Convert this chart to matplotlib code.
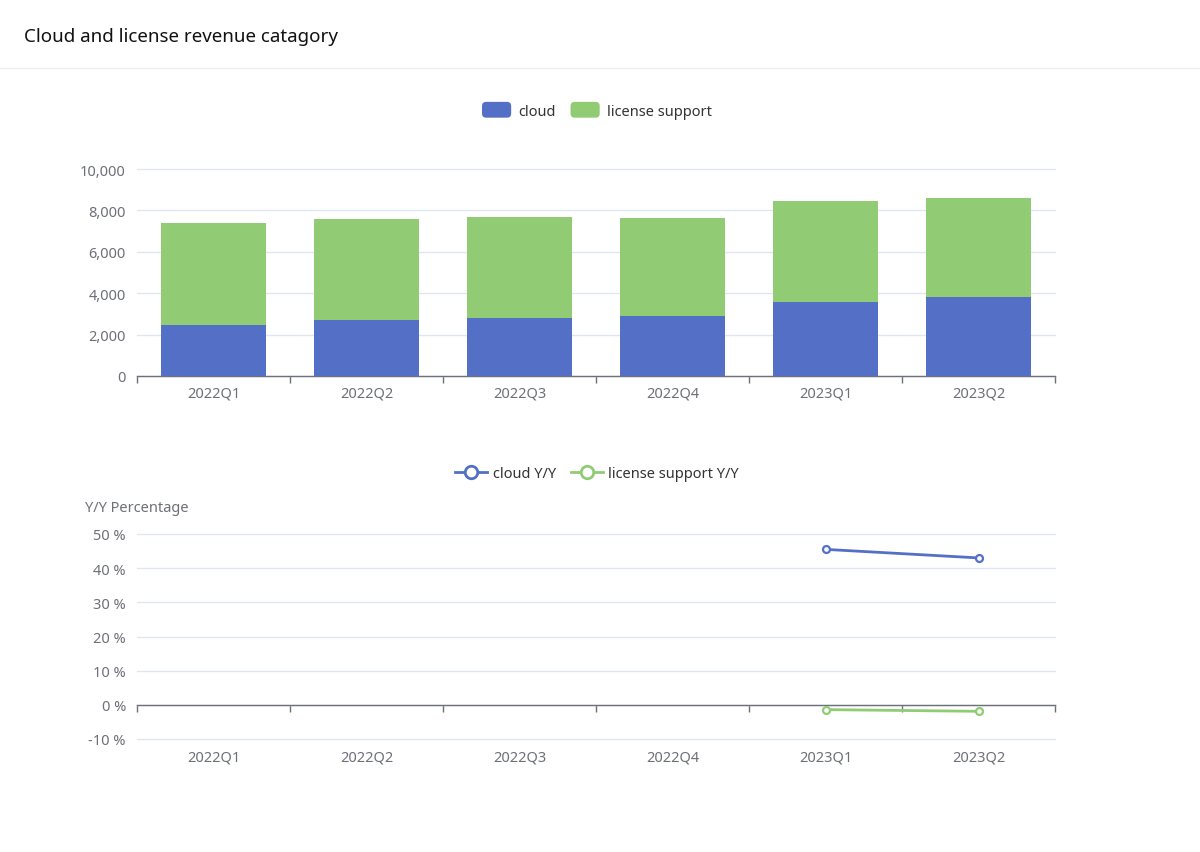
import matplotlib
matplotlib.use("Agg")
import matplotlib.pyplot as plt
import numpy as np
from matplotlib.patches import FancyBboxPatch
from matplotlib.legend_handler import HandlerPatch
from matplotlib.lines import Line2D
import matplotlib.patches as mpatches

plt.rcParams['font.family'] = ['Noto Sans', 'DejaVu Sans']

quarters = ["2022Q1", "2022Q2", "2022Q3", "2022Q4", "2023Q1", "2023Q2"]
cloud = [2470, 2690, 2810, 2920, 3590, 3810]
license_support = [4910, 4890, 4850, 4700, 4840, 4800]
cloud_yy = [np.nan, np.nan, np.nan, np.nan, 45.5, 43.0]
license_yy = [np.nan, np.nan, np.nan, np.nan, -1.4, -1.9]

BLUE = "#5470c6"
GREEN = "#91cc75"
TXT = "#6e7079"
GRID = "#e0e6f1"
TICKFS = 10.5

W, H = 1200, 853
fig = plt.figure(figsize=(12, 8.53), dpi=100)
fig.patch.set_facecolor("white")

def fx(px):
    return px / W

def fy(py):
    return 1 - py / H

# Title and separator
fig.text(fx(24), fy(37), "Cloud and license revenue catagory", fontsize=13.5,
         color="#111111", ha="left", va="center")
fig.add_artist(Line2D([0, 1], [fy(69), fy(69)], color="#eeeeee", lw=1,
                      transform=fig.transFigure))

class RoundRectHandler(HandlerPatch):
    def create_artists(self, legend, orig_handle, xdescent, ydescent, width,
                       height, fontsize, trans):
        p = FancyBboxPatch((-xdescent, -ydescent - 1), width, height + 2,
                           boxstyle="round,pad=0,rounding_size=3",
                           facecolor=orig_handle.get_facecolor(),
                           edgecolor="none", transform=trans)
        return [p]

x = np.arange(len(quarters))

# Top bar chart
ax1 = fig.add_axes([fx(137), fy(377), fx(1055 - 137), (377 - 170) / H])
ax1.bar(x, cloud, width=0.69, color=BLUE, label="cloud", zorder=3)
ax1.bar(x, license_support, width=0.69, bottom=cloud, color=GREEN,
        label="license support", zorder=3)
ax1.set_xlim(-0.5, len(quarters) - 0.5)
ax1.set_ylim(0, 10000)
ax1.set_yticks(np.arange(0, 10001, 2000))
ax1.set_yticklabels([f"{v:,}" for v in range(0, 10001, 2000)])
ax1.set_xticks(np.arange(-0.5, len(quarters), 1.0))
ax1.set_xticklabels([])
ax1.set_xticks(x, minor=True)
ax1.set_xticklabels(quarters, minor=True)
ax1.tick_params(axis="x", which="major", length=5, width=1, color=TXT,
                direction="out")
ax1.tick_params(axis="x", which="minor", length=0, pad=7, labelsize=TICKFS,
                labelcolor=TXT)
ax1.tick_params(axis="y", length=0, pad=8, labelsize=TICKFS, labelcolor=TXT)
for s in ["top", "right", "left"]:
    ax1.spines[s].set_visible(False)
ax1.spines["bottom"].set_color(TXT)
ax1.spines["bottom"].set_linewidth(1)
ax1.yaxis.grid(True, color=GRID, lw=1, zorder=0)
for gl in ax1.get_ygridlines():
    gl.set_clip_on(False)
ax1.set_axisbelow(True)

fig.legend(handles=[mpatches.Patch(color=BLUE, label="cloud"),
                    mpatches.Patch(color=GREEN, label="license support")],
           handler_map={mpatches.Patch: RoundRectHandler()},
           loc="center", bbox_to_anchor=(fx(597), fy(112)), ncol=2,
           frameon=False, fontsize=10.5, labelcolor="#333333",
           handlelength=2.0, handleheight=1.0, handletextpad=0.5,
           columnspacing=1.0)

# Bottom line chart
ax2 = fig.add_axes([fx(137), fy(740), fx(1055 - 137), (740 - 535) / H])
ax2.plot(x, cloud_yy, color=BLUE, lw=2, marker="o", markersize=5,
         markerfacecolor="white", markeredgewidth=1.6,
         markeredgecolor=BLUE, zorder=4, label="cloud Y/Y")
ax2.plot(x, license_yy, color=GREEN, lw=2, marker="o", markersize=5,
         markerfacecolor="white", markeredgewidth=1.6,
         markeredgecolor=GREEN, zorder=4, label="license support Y/Y")
ax2.set_xlim(-0.5, len(quarters) - 0.5)
ax2.set_ylim(-10, 50)
yt = np.arange(-10, 51, 10)
ax2.set_yticks(yt)
ax2.set_yticklabels([f"{v} %" for v in yt])
ax2.tick_params(axis="y", length=0, pad=8, labelsize=TICKFS, labelcolor=TXT)
for s in ["top", "right", "left"]:
    ax2.spines[s].set_visible(False)
ax2.spines["bottom"].set_position(("data", 0))
ax2.spines["bottom"].set_color(TXT)
ax2.spines["bottom"].set_linewidth(1)
ax2.set_xticks(np.arange(-0.5, len(quarters), 1.0))
ax2.set_xticklabels([])
ax2.tick_params(axis="x", which="major", length=5, width=1, color=TXT,
                direction="out")
ax2.yaxis.grid(True, color=GRID, lw=1, zorder=0)
for gl in ax2.get_ygridlines():
    gl.set_clip_on(False)
ax2.set_axisbelow(True)
sec = ax2.secondary_xaxis(0)
sec.set_xticks(x)
sec.set_xticklabels(quarters)
sec.tick_params(axis="x", length=0, pad=7.5, labelsize=TICKFS, labelcolor=TXT)
sec.spines["bottom"].set_visible(False)

fig.text(fx(85), fy(508), "Y/Y Percentage", fontsize=10.5, color=TXT,
         ha="left", va="center")

fig.legend(handles=[Line2D([], [], color=BLUE, lw=2, marker="o", markersize=9,
                           markerfacecolor="white", markeredgewidth=2,
                           markeredgecolor=BLUE, label="cloud Y/Y"),
                    Line2D([], [], color=GREEN, lw=2, marker="o", markersize=9,
                           markerfacecolor="white", markeredgewidth=2,
                           markeredgecolor=GREEN, label="license support Y/Y")],
           loc="center", bbox_to_anchor=(fx(597), fy(475)), ncol=2,
           frameon=False, fontsize=10.5, labelcolor="#333333",
           handlelength=2.2, handletextpad=0.4, columnspacing=1.0)

fig.savefig("out.png", dpi=100, facecolor="white")
